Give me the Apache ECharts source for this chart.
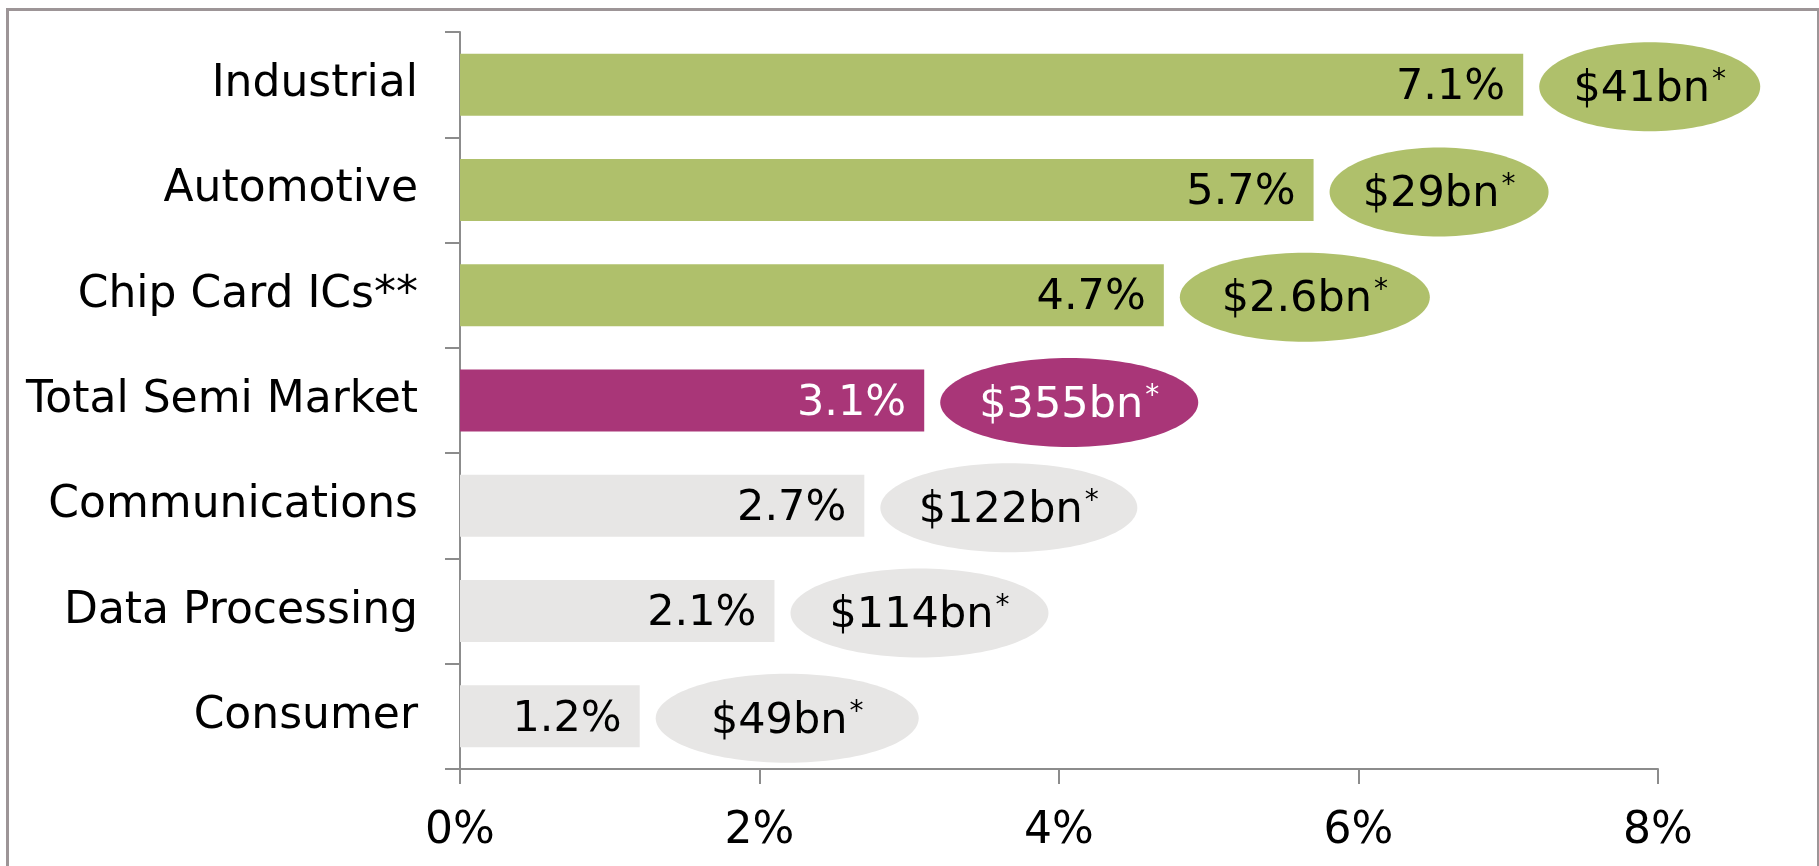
<!DOCTYPE html>
<html>
<head>
<meta charset="utf-8">
<script src="https://cdn.jsdelivr.net/npm/echarts@6/dist/echarts.min.js"></script>
<style>
html,body{margin:0;padding:0;background:#fff;}
#chart{width:1819px;height:866px;}
</style>
</head>
<body>
<div id="chart"></div>
<script>
// ---- data ----
const categories = ['Industrial', 'Automotive', 'Chip Card ICs**', 'Total Semi Market', 'Communications', 'Data Processing', 'Consumer'];
const growth = [7.1, 5.7, 4.7, 3.1, 2.7, 2.1, 1.2];
const marketSize = ['$41bn', '$29bn', '$2.6bn', '$355bn', '$122bn', '$114bn', '$49bn'];
const xTicks = [0, 2, 4, 6, 8];

// ---- styles ----
const GREEN = '#afc06b', PINK = '#a93678', GREY = '#e7e6e5';
const barColors = [GREEN, GREEN, GREEN, PINK, GREY, GREY, GREY];
const textColors = ['#000', '#000', '#000', '#fff', '#000', '#000', '#000'];
const bubbleWidths = [221, 219, 250, 258, 257, 258, 263];
const FONT = '"DejaVu Sans", Verdana, sans-serif';
const FS = 43;

const chart = echarts.init(document.getElementById('chart'), null, {renderer: 'canvas'});

const option = {
  animation: false,
  backgroundColor: '#fff',
  graphic: [{
    type: 'rect', left: 5, top: 7, z: -10,
    shape: {width: 1811, height: 900},
    style: {fill: 'none', stroke: '#9d9597', lineWidth: 3}
  }],
  grid: {left: 460, right: 161, top: 32, bottom: 97, containLabel: false},
  xAxis: {
    type: 'value', min: 0, max: 8, interval: 2,
    axisLine: {show: true, lineStyle: {color: '#8c8c8c', width: 2}},
    axisTick: {show: true, length: 15, lineStyle: {color: '#8c8c8c', width: 2}},
    splitLine: {show: false},
    axisLabel: {
      margin: 41, color: '#000', fontFamily: FONT, fontSize: 44,
      formatter: v => xTicks.includes(v) ? v + '%' : ''
    }
  },
  yAxis: {
    type: 'category', data: categories, inverse: true,
    axisLine: {show: true, lineStyle: {color: '#8c8c8c', width: 2}},
    axisTick: {show: true, length: 15, lineStyle: {color: '#8c8c8c', width: 2}},
    axisLabel: {margin: 42, color: '#000', fontFamily: FONT, fontSize: 44, padding: [5, 0, 0, 0]}
  },
  series: [
    {
      type: 'bar',
      barWidth: 62,
      data: growth.map((v, i) => ({
        value: v,
        itemStyle: {color: barColors[i]},
        label: {color: textColors[i]}
      })),
      label: {
        show: true, position: 'insideRight', distance: 18, offset: [0, 3],
        fontFamily: FONT, fontSize: FS,
        formatter: p => p.value.toFixed(1) + '%'
      }
    },
    {
      type: 'custom',
      data: growth.map((v, i) => [v, i]),
      encode: {x: 0, y: 1},
      renderItem: function (params, api) {
        const i = params.dataIndex;
        const end = api.coord([api.value(0), api.value(1)]);
        const w = bubbleWidths[i];
        const h = 89;
        const cx = end[0] + 16 + w / 2;
        const cy = end[1] + 2;
        return {
          type: 'group',
          children: [
            {type: 'ellipse', shape: {cx: cx, cy: cy, rx: w / 2, ry: h / 2}, style: {fill: barColors[i]}},
            {
              type: 'text',
              style: {
                x: cx, y: cy + 3, align: 'center', verticalAlign: 'middle',
                text: '{m|' + marketSize[i] + '}{s|*}',
                rich: {
                  m: {fontFamily: FONT, fontSize: FS, fill: textColors[i], color: textColors[i]},
                  s: {fontFamily: FONT, fontSize: 28, fill: textColors[i], color: textColors[i], verticalAlign: 'top', padding: [0, 0, 18, 2]}
                }
              }
            }
          ]
        };
      }
    }
  ]
};
chart.setOption(option);
</script>
</body>
</html>
